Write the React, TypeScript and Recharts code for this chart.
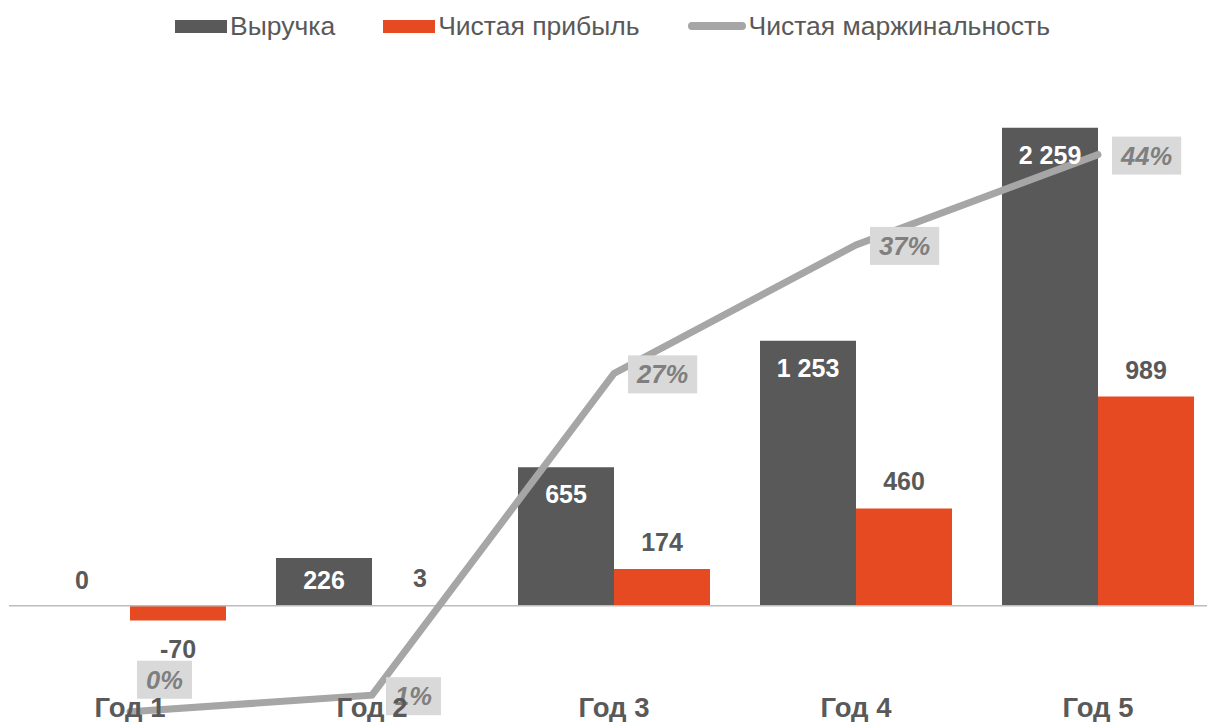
import { ComposedChart, Bar, Line, XAxis, YAxis, ReferenceLine, Legend, LabelList } from 'recharts';

const years = ['Год 1', 'Год 2', 'Год 3', 'Год 4', 'Год 5'];
const revenue = [0, 226, 655, 1253, 2259];
const netProfit = [-70, 3, 174, 460, 989];
const netMargin = [0, 1.3, 26.6, 36.7, 43.8];

const seriesNames = ['Выручка', 'Чистая прибыль', 'Чистая маржинальность'];

const data = years.map((year, i) => ({
  year,
  revenue: revenue[i],
  profit: netProfit[i],
  margin: netMargin[i],
}));

const FONT = '"Liberation Sans", Arial, sans-serif';
const DARK = '#595959';
const RED = '#e54a22';
const GREY = '#a6a6a6';

const fmt = (v: number) => String(v).replace(/\B(?=(\d{3})+(?!\d))/g, ' ');

function YearTick({ x, y, payload }: any) {
  return (
    <text x={x} y={y} dy={-3} textAnchor="middle" fill={DARK} fontSize={27.5} fontWeight="bold" fontFamily={FONT}>
      {payload.value}
    </text>
  );
}

function RevenueLabel(props: any) {
  const { x, y, width, height, value } = props;
  const cx = x + width / 2;
  const top = Math.min(y, y + height);
  const h = Math.abs(height);
  if (!value || h < 20) {
    return (
      <text x={cx} y={top - 17} textAnchor="middle" fill={DARK} fontSize={25} fontWeight="bold" fontFamily={FONT}>
        {fmt(value)}
      </text>
    );
  }
  return (
    <text x={cx} y={top + Math.min(36, h / 2 + 7)} textAnchor="middle" fill="#fff" fontSize={25} fontWeight="bold" fontFamily={FONT}>
      {fmt(value)}
    </text>
  );
}

function ProfitLabel(props: any) {
  const { x, y, width, height, value } = props;
  const cx = x + width / 2;
  const top = Math.min(y, y + height);
  const bottom = Math.max(y, y + height);
  const ty = value < 0 ? bottom + 37 : top - 18;
  return (
    <text x={cx} y={ty} textAnchor="middle" fill={DARK} fontSize={25} fontWeight="bold" fontFamily={FONT}>
      {fmt(value)}
    </text>
  );
}

function MarginLabel(props: any) {
  const { x, y, value, index } = props;
  const text = `${Math.round(value)}%`;
  const w = (text.length - 1) * 14.2 + 22.8 + 18;
  const h = 38;
  // first point: label sits above the line
  const left = index === 0 ? x + 7 : x + 14;
  const cy = index === 0 ? y - 32 : y + 1;
  return (
    <g>
      <rect x={left} y={cy - h / 2} width={w} height={h} fill="#d9d9d9" />
      <text x={left + w / 2} y={cy + 9} textAnchor="middle" fill="#7f7f7f" fontSize={25.5} fontWeight="bold" fontStyle="italic" fontFamily={FONT}>
        {text}
      </text>
    </g>
  );
}

function ChartLegend() {
  const icons = [
    <div style={{ width: 52, height: 13, background: DARK }} />,
    <div style={{ width: 52, height: 13, background: RED }} />,
    <div style={{ width: 58, height: 8, background: GREY, borderRadius: 4 }} />,
  ];
  return (
    <div style={{ display: 'flex', alignItems: 'center', height: 52, paddingLeft: 175, fontFamily: FONT, fontSize: 26.5, color: DARK }}>
      {seriesNames.map((name, i) => (
        <div key={name} style={{ display: 'flex', alignItems: 'center', marginRight: 48 }}>
          {icons[i]}
          <span style={{ marginLeft: 3 }}>{name}</span>
        </div>
      ))}
    </div>
  );
}

export default function App() {
  return (
    <div style={{ position: 'absolute', left: 0, top: 0, width: 1207, height: 722, overflow: 'hidden', background: '#fff' }}>
      <ComposedChart width={1220} height={722} data={data} margin={{ top: 46, right: 1, bottom: 1, left: 9 }} barGap={0}>
        <Legend content={<ChartLegend />} verticalAlign="top" align="left" wrapperStyle={{ top: 0, left: 0, width: 1207, height: 52 }} />
        <YAxis yAxisId="left" hide domain={[-540, 2400]} />
        <YAxis yAxisId="right" orientation="right" hide domain={[-0.65, 48.25]} />
        <ReferenceLine yAxisId="left" y={0} stroke="#bcbcbc" strokeWidth={1.5} />
        <Bar yAxisId="left" dataKey="revenue" name={seriesNames[0]} fill={DARK} barSize={96} minPointSize={(v: number) => (v === 0 ? 0.01 : 0)} isAnimationActive={false}>
          <LabelList dataKey="revenue" content={<RevenueLabel />} />
        </Bar>
        <Bar yAxisId="left" dataKey="profit" name={seriesNames[1]} fill={RED} barSize={96} isAnimationActive={false}>
          <LabelList dataKey="profit" content={<ProfitLabel />} />
        </Bar>
        <Line yAxisId="right" dataKey="margin" name={seriesNames[2]} stroke={GREY} strokeWidth={7} strokeLinecap="round" dot={false} activeDot={false} isAnimationActive={false}>
          <LabelList dataKey="margin" content={<MarginLabel />} />
        </Line>
        {/* year labels sit on top of the line, as in the source */}
        <XAxis dataKey="year" height={1} axisLine={false} tickLine={false} tickSize={0} tickMargin={0} tick={<YearTick />} interval={0} zIndex={3000} />
      </ComposedChart>
    </div>
  );
}
